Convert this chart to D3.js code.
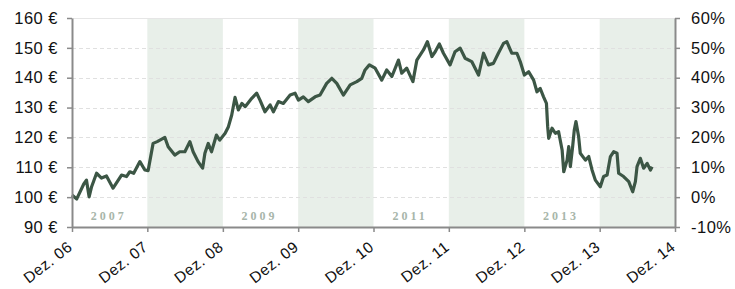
<!DOCTYPE html>
<html><head><meta charset="utf-8">
<script src="https://cdn.jsdelivr.net/npm/d3@7"></script>
<style>
html,body{margin:0;padding:0;background:#fff;}
svg{display:block;}
.tick text{font-family:"Liberation Sans",Arial,sans-serif;font-size:16.5px;fill:#111;letter-spacing:0.5px;}
</style></head>
<body><svg id="c" width="735" height="289"></svg>
<script>
const dates = ["2007-01-01","2007-01-24","2007-02-27","2007-03-12","2007-03-25","2007-04-06","2007-04-30","2007-05-24","2007-06-17","2007-07-19","2007-08-29","2007-09-22","2007-10-08","2007-10-27","2007-11-26","2007-12-20",
"2008-01-05","2008-01-29","2008-02-18","2008-03-26","2008-04-11","2008-05-13","2008-06-06","2008-07-01","2008-07-25","2008-08-10","2008-09-03","2008-09-25","2008-10-06","2008-10-22","2008-11-07","2008-12-01","2008-12-17",
"2009-01-12","2009-01-28","2009-02-13","2009-03-01","2009-03-17","2009-04-03","2009-04-19","2009-05-21","2009-06-14","2009-06-30","2009-07-24","2009-08-18","2009-09-03","2009-09-27","2009-10-21","2009-11-23","2009-12-17",
"2010-01-02","2010-01-26","2010-02-19","2010-03-24","2010-04-17","2010-05-19","2010-06-13","2010-07-07","2010-08-08","2010-09-10","2010-10-12","2010-11-05","2010-11-21","2010-12-12",
"2011-01-09","2011-02-10","2011-03-06","2011-03-31","2011-05-02","2011-05-18","2011-06-11","2011-07-11","2011-07-30","2011-08-31","2011-09-19","2011-10-11","2011-10-27","2011-11-16","2011-12-06",
"2012-01-07","2012-01-31","2012-02-25","2012-03-20","2012-04-21","2012-05-24","2012-06-17","2012-07-11","2012-08-04","2012-08-28","2012-09-22","2012-10-08","2012-11-01","2012-11-26","2012-12-12",
"2013-01-01","2013-01-22","2013-02-15","2013-03-03","2013-03-19","2013-04-04","2013-04-18","2013-04-24","2013-04-29","2013-05-15","2013-05-31","2013-06-16","2013-07-03","2013-07-11","2013-07-27","2013-08-04","2013-08-12","2013-08-23","2013-08-31","2013-09-08","2013-09-21","2013-09-29","2013-10-24","2013-11-09","2013-11-25","2013-12-11",
"2014-01-04","2014-01-20","2014-02-06","2014-02-22","2014-03-10","2014-03-26","2014-04-03","2014-04-27","2014-05-22","2014-06-10","2014-06-23","2014-07-01","2014-07-17","2014-08-02","2014-08-19","2014-09-04","2014-09-12"];
const prices = [100.7,99.4,104.4,105.7,100.1,103.5,108,106.4,107.1,103,107.4,106.9,108.5,108,111.9,109.1,
108.9,118,118.6,120,116.9,114.1,115.2,115.2,118.6,115.2,111.9,109.7,114.7,118,115.2,120.8,119.1,
121.4,123.6,127.5,133.4,129.2,131.4,130.3,133.1,134.8,132.5,128.6,130.9,128.6,132,131.4,134.2,134.8,
132.5,133.6,132,133.6,134.2,138.1,139.8,138.1,134.2,137.6,138.7,139.8,142.6,144.3,
143.2,139.2,142.6,140.4,145.9,141.5,143.2,138.7,145.9,149.3,152.1,147.1,148.7,151.3,148.2,
144.3,148.7,149.9,146.5,145.4,140.9,148.2,144.3,144.8,148.2,151.5,152.1,148.2,148.2,145.4,
140.9,142,139.2,135.3,136.4,133.6,131.4,123.6,119.7,123.1,121.4,121.9,115.8,108.5,112.4,116.9,110.2,116.9,122.5,125.3,120.3,114.7,112.4,113.6,109.1,105.7,
103.5,106.9,107.4,113.6,115.2,114.7,108,106.9,105.2,101.8,105.2,110.2,113,109.7,111.3,109.1,110.2];
const priceTicks = [90,100,110,120,130,140,150,160];
const pctTicks = [-10,0,10,20,30,40,50,60];
const xTickDates = ["2007-01-01","2008-01-01","2009-01-01","2010-01-01","2011-01-01","2012-01-01","2013-01-01","2014-01-01","2015-01-01"];
const xTickLabels = ["Dez. 06","Dez. 07","Dez. 08","Dez. 09","Dez. 10","Dez. 11","Dez. 12","Dez. 13","Dez. 14"];
const yearLabels = ["2007","2009","2011","2013"];

const parse = d3.timeParse("%Y-%m-%d");
const data = dates.map((d,i)=>({date:parse(d), v:prices[i]}));
const tickD = xTickDates.map(parse);

const L=72, R=675, T=18, B=227;
const svg = d3.select("#c");
const x = d3.scaleTime().domain([tickD[0], tickD[tickD.length-1]]).range([L,R]);
const y = d3.scaleLinear().domain([90,160]).range([B,T]);
const yp = d3.scaleLinear().domain([-10,60]).range([B,T]);

// shaded bands for even years
for (let i=1;i<tickD.length-1;i+=2){
  svg.append("rect").attr("x",x(tickD[i])).attr("y",T).attr("width",x(tickD[i+1])-x(tickD[i])).attr("height",B-T).attr("fill","#e8efe9");
}
// top border
svg.append("line").attr("x1",L).attr("x2",R).attr("y1",T+0.5).attr("y2",T+0.5).attr("stroke","#e6e6e6");
// gridlines
svg.append("g").selectAll("line").data(priceTicks.filter(d=>d>90&&d<160)).join("line")
  .attr("x1",L).attr("x2",R).attr("y1",d=>Math.round(y(d))+0.5).attr("y2",d=>Math.round(y(d))+0.5)
  .attr("stroke","#e0e0e0").attr("stroke-dasharray","4,3");
// year labels
svg.append("g").selectAll("text").data(yearLabels).join("text")
  .attr("x",(d,i)=>(x(tickD[2*i])+x(tickD[2*i+1]))/2 - 1)
  .attr("y",220)
  .attr("text-anchor","middle")
  .attr("font-family","'Liberation Serif','DejaVu Serif',serif")
  .attr("font-weight","bold").attr("font-size","12px").attr("letter-spacing","3px")
  .attr("fill","#a8b6aa").text(d=>d);

// line
svg.append("path").datum(data)
  .attr("d", d3.line().x(d=>x(d.date)).y(d=>y(d.v)))
  .attr("fill","none").attr("stroke","#3c5645").attr("stroke-width",3.2).attr("stroke-linejoin","round");

function styleAxis(g){
  g.select(".domain").attr("stroke","#8a8a8a").attr("stroke-width",2);
  g.selectAll(".tick line").attr("stroke","#8a8a8a").attr("stroke-width",1.5);
}
const gl = svg.append("g").attr("transform",`translate(${L},0)`)
  .call(d3.axisLeft(y).tickValues(priceTicks).tickSize(5).tickSizeOuter(0).tickPadding(9).tickFormat(d=>d+" €"));
styleAxis(gl);
const gr = svg.append("g").attr("transform",`translate(${R},0)`)
  .call(d3.axisRight(yp).tickValues(pctTicks).tickSize(5).tickSizeOuter(0).tickPadding(11).tickFormat(d=>d+"%"));
styleAxis(gr);
const gb = svg.append("g").attr("transform",`translate(0,${B})`)
  .call(d3.axisBottom(x).tickValues(tickD).tickSize(5).tickSizeOuter(0).tickFormat((d,i)=>xTickLabels[i]));
styleAxis(gb);
gb.selectAll(".tick text").attr("text-anchor","end").attr("dy",null).attr("y",0)
  .attr("transform","translate(1,22) rotate(-38)").style("font-size","15.5px");
</script></body></html>
